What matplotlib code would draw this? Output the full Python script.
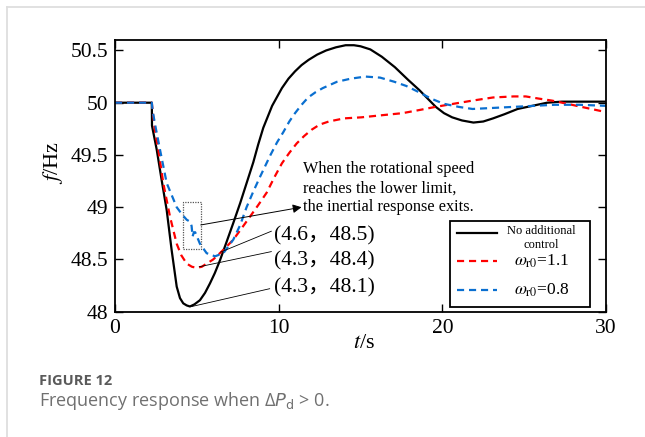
import matplotlib
matplotlib.use("Agg")
import matplotlib.pyplot as plt
from matplotlib.lines import Line2D
from matplotlib.patches import Rectangle

plt.rcParams["font.family"] = ["Liberation Serif", "Noto Sans CJK SC"]
plt.rcParams["mathtext.fontset"] = "stix"

# --- data (t in s, f in Hz) ---
t_base = [0, 0.5, 1.0, 1.5, 2.0, 2.25, 2.26, 2.55, 2.85, 3.16, 3.46, 3.77, 3.97, 4.17, 4.38, 4.58, 4.85, 5.19,
          5.5, 5.8, 6.1, 6.41, 6.8, 7.23, 7.65, 8.04, 8.45, 8.75, 9.06, 9.6, 10.2, 10.6, 11.0, 11.4, 11.83,
          12.35, 12.9, 13.5, 14.09, 14.6, 15.0, 15.6, 16.3, 17.1, 17.9, 18.6, 19.1, 19.6, 20.1, 20.6, 21.2,
          21.9, 22.5, 23.1, 23.8, 24.6, 25.5, 26.4, 27.3, 28.2, 29.1, 30]
f_base = [50.0, 50.0, 50.0, 50.0, 50.0, 50.0, 49.78, 49.55, 49.26, 48.97, 48.59, 48.24, 48.13, 48.08, 48.06, 48.05,
          48.07, 48.11, 48.18, 48.27, 48.37, 48.49, 48.66, 48.85, 49.04, 49.23, 49.43, 49.6, 49.76, 49.97, 50.14,
          50.23, 50.3, 50.36, 50.41, 50.46, 50.5, 50.53, 50.55, 50.55, 50.54, 50.51, 50.44, 50.34, 50.22, 50.12,
          50.04, 49.96, 49.9, 49.86, 49.83, 49.81, 49.82, 49.85, 49.89, 49.94, 49.97, 50.0, 50.01, 50.01, 50.01,
          50.01]

t_w11 = [0, 1.0, 2.0, 2.25, 2.3, 2.45, 2.65, 2.95, 3.36, 3.77, 4.05, 4.38, 4.7, 4.99, 5.3, 5.6,
         6.0, 6.41, 6.8, 7.23, 7.7, 8.25, 8.75, 9.27, 9.75, 10.2, 10.65, 11.1, 11.55, 12.0, 12.5, 13.06,
         14.0, 15.06, 16.3, 17.57, 18.6, 19.58, 20.7, 21.84, 23.1, 24.35, 25.1, 25.86, 26.7, 27.62,
         28.8, 30]
f_w11 = [50.0, 50.0, 50.0, 50.0, 49.92, 49.72, 49.55, 49.23, 48.91, 48.65, 48.54, 48.46, 48.43, 48.42, 48.43, 48.46,
         48.5, 48.56, 48.62, 48.69, 48.79, 48.91, 49.02, 49.14, 49.29, 49.42, 49.52, 49.61, 49.68, 49.74, 49.79,
         49.82, 49.85, 49.86, 49.88, 49.9, 49.93, 49.96, 49.99, 50.02, 50.05, 50.06, 50.06, 50.04, 50.02, 49.99,
         49.95, 49.91]

t_w08 = [0, 1.0, 2.0, 2.25, 2.3, 2.5, 2.75, 3.16, 3.77, 4.1, 4.38, 4.6, 4.68, 4.74, 4.82, 4.9,
         5.19, 5.6, 6.11, 6.62, 7.23, 7.65, 8.04, 8.45, 8.86, 9.5, 9.9, 10.29, 10.65, 11.0, 11.4, 11.8,
         12.25, 12.7, 13.56, 14.4, 15.3, 16.2, 17.07, 17.8, 18.58, 19.3, 20.08, 21.0, 21.84, 23.1,
         24.35, 25.6, 26.86, 28.4, 30]
f_w08 = [50.0, 50.0, 50.0, 50.0, 49.92, 49.75, 49.55, 49.23, 49.0, 48.93, 48.88, 48.86, 48.82, 48.72, 48.76, 48.76,
         48.65, 48.56, 48.53, 48.56, 48.69, 48.83, 49.0, 49.15, 49.29, 49.5, 49.62, 49.72, 49.82, 49.9, 49.98,
         50.05, 50.1, 50.14, 50.2, 50.23, 50.25, 50.24, 50.2, 50.16, 50.1, 50.04, 49.99, 49.96, 49.94, 49.95,
         49.96, 49.97, 49.98, 49.98, 49.97]

x_ticks = [0, 10, 20, 30]
y_ticks = [48, 48.5, 49, 49.5, 50, 50.5]
y_ticklabels = ["48", "48.5", "49", "49.5", "50", "50.5"]

labels = ["No additional\ncontrol", r"$\omega_{\mathrm{r0}}$=1.1", r"$\omega_{\mathrm{r0}}$=0.8"]
point_labels = ["(4.6，48.5)", "(4.3，48.4)", "(4.3，48.1)"]
label_pos = [(9.72, 48.73), (9.72, 48.485), (9.72, 48.225)]
leader_from = [(6.45, 48.57), (5.15, 48.43), (4.7, 48.05)]
leader_to = [(9.55, 48.77), (9.55, 48.575), (9.45, 48.22)]

# --- figure ---
fig = plt.figure(figsize=(6.45, 4.37), dpi=100)
ax = fig.add_axes([115 / 645, 1 - 311.7 / 437, 491 / 645, 271.7 / 437])

styles = [
    dict(color="black", lw=1.6, ls="-"),
    dict(color="#ff0000", lw=1.6, ls=(0, (3.2, 2.2))),
    dict(color="#0a6fd0", lw=1.6, ls=(0, (3.2, 2.2))),
]
ax.plot(t_base, f_base, **styles[0])
ax.plot(t_w11, f_w11, **styles[1])
ax.plot(t_w08, f_w08, **styles[2])

ax.set_xlim(0, 30)
ax.set_ylim(48, 50.6)
ax.set_xticks(x_ticks)
ax.set_yticks(y_ticks)
ax.set_yticklabels(y_ticklabels)
ax.tick_params(direction="in", length=6, width=1, top=True, right=True,
               labelsize=15.5, pad=5)
for s in ax.spines.values():
    s.set_linewidth(1.3)

fig.text(53 / 645, 1 - 163 / 437, "$f$/Hz", rotation=90, ha="center", va="center",
         fontsize=16, math_fontfamily="stix")
fig.text(364 / 645, 1 - 343 / 437, "$t$/s", ha="center", va="center",
         fontsize=16, math_fontfamily="stix")

# dotted box and arrow
ax.add_patch(Rectangle((4.17, 48.6), 1.07, 0.45, fill=False, ls=(0, (1, 1)),
                       lw=0.9, edgecolor="#555555"))
ax.annotate("", xy=(11.4, 49.0), xytext=(5.24, 48.83),
            arrowprops=dict(arrowstyle="-|>", color="black", lw=0.7,
                            mutation_scale=13, shrinkA=0, shrinkB=0))
ax.text(11.5, 49.18, "When the rotational speed\nreaches the lower limit,\nthe inertial response exits.",
        ha="left", va="center", fontsize=11.7, linespacing=1.25)

for (x0, y0), (x1, y1), (lx, ly), txt in zip(leader_from, leader_to, label_pos, point_labels):
    ax.plot([x0, x1], [y0, y1], color="black", lw=0.6)
    ax.text(lx, ly, txt, ha="left", va="center", fontsize=15.6)

# legend box
tr = ax.transAxes
ax.add_patch(Rectangle((0.682, 0.018), 0.285, 0.314, transform=tr, fill=False,
                       edgecolor="black", lw=1.3, zorder=5))
row_y = [0.29, 0.186, 0.08]
for st, yy in zip(styles, row_y):
    ax.add_line(Line2D([0.697, 0.778], [yy, yy], transform=tr, zorder=6, **st))
ax.text(0.869, 0.272, labels[0], transform=tr, ha="center", va="center",
        fontsize=9, linespacing=1.2, multialignment="center")
ax.text(0.869, 0.186, labels[1], transform=tr, ha="center", va="center", fontsize=12.5)
ax.text(0.869, 0.08, labels[2], transform=tr, ha="center", va="center", fontsize=12.5)

# page frame and caption
fig.add_artist(Line2D([7 / 645, 1], [1 - 7 / 437, 1 - 7 / 437], color="#dedede", lw=1.3))
fig.add_artist(Line2D([7 / 645, 7 / 645], [0, 1 - 7 / 437], color="#dedede", lw=1.3))
fig.text(39 / 645, 1 - 381 / 437, "FIGURE 12", fontfamily="Open Sans", fontweight="bold",
         fontsize=10.5, color="#5a5a5a", va="center")
fig.text(39 / 645, 1 - 401 / 437, r"Frequency response when Δ$P_{\mathrm{d}}$ > 0.",
         fontfamily="Open Sans", fontsize=13.0, color="#707070", va="center",
         math_fontfamily="dejavusans")

fig.savefig("out.png", dpi=100)
